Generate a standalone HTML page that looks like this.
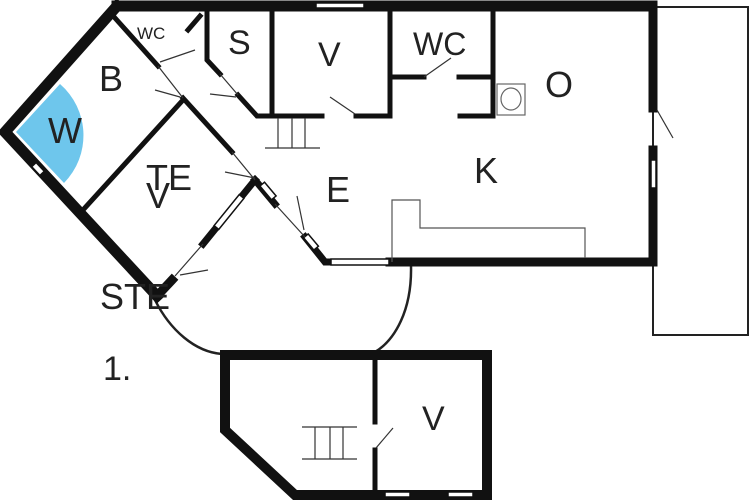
<!DOCTYPE html>
<html><head><meta charset="utf-8"><style>
html,body{margin:0;padding:0;background:#fff;width:750px;height:500px;overflow:hidden}
text{font-family:"Liberation Sans",sans-serif;fill:#222}
</style></head><body>
<svg width="750" height="500" viewBox="0 0 750 500" xmlns="http://www.w3.org/2000/svg">
<rect width="750" height="500" fill="#fff"/>
<path d="M16,132 L60,84 A68 68 0 0 1 64,183 Z" fill="#6ec6ec"/>
<rect x="653" y="7" width="95" height="328" fill="none" stroke="#222" stroke-width="2"/>
<path d="M411,266 C412,310 395,340 375,352" fill="none" stroke="#222" stroke-width="2.5"/>
<path d="M155,300 C170,330 195,352 222,354" fill="none" stroke="#222" stroke-width="2.5"/>
<g fill="none" stroke="#111" stroke-linecap="square">
<polyline points="117,6 5,132 157,296" stroke-width="11"/>
<line x1="117" y1="6" x2="652" y2="6" stroke-width="11"/>
<line x1="653" y1="6" x2="653" y2="108" stroke-width="9"/>
<line x1="653" y1="150" x2="653" y2="262" stroke-width="9"/>
<line x1="390" y1="262" x2="653" y2="262" stroke-width="9"/>
<polyline points="115,18 158,66" stroke-width="5"/>
<polyline points="183,98 232,152" stroke-width="5"/>
<polyline points="183,100 83,210" stroke-width="5"/>
<polyline points="207,12 207,60 220,74" stroke-width="5"/>
<polyline points="238,95 257,116 322,116" stroke-width="5"/>
<line x1="356" y1="116" x2="385" y2="116" stroke-width="5"/>
<line x1="272" y1="12" x2="272" y2="116" stroke-width="5"/>
<line x1="390" y1="12" x2="390" y2="116" stroke-width="5"/>
<line x1="392" y1="77" x2="424" y2="77" stroke-width="5"/>
<line x1="459" y1="77" x2="493" y2="77" stroke-width="5"/>
<line x1="493" y1="12" x2="493" y2="116" stroke-width="5"/>
<line x1="460" y1="116" x2="493" y2="116" stroke-width="5"/>
<line x1="200" y1="16" x2="188" y2="30" stroke-width="5"/>
<polyline points="255,180 275,204" stroke-width="7"/>
<polyline points="305,237 325,262 330,262" stroke-width="7"/>
<polyline points="255,180 203,244" stroke-width="7"/>
<polyline points="172,280 157,296" stroke-width="9"/>
<polyline points="225,355 487,355 487,495 295,495 225,430 225,355" stroke-width="10"/>
<line x1="375" y1="358" x2="375" y2="422" stroke-width="5"/>
<line x1="375" y1="450" x2="375" y2="492" stroke-width="5"/>
</g>
<g fill="#fff" stroke="#111" stroke-width="1.5">
<rect x="316" y="3" width="48" height="5"/>
<rect x="331" y="259" width="58" height="6"/>
<rect x="651" y="160" width="5" height="28"/>
<rect x="385" y="492" width="25" height="5"/>
<rect x="448" y="492" width="25" height="5"/>
<rect x="32" y="166" width="12" height="6" transform="rotate(47 38 169)"/>
<rect x="259" y="188" width="18" height="6" transform="rotate(50 268 191)"/>
<rect x="303" y="239" width="16" height="6" transform="rotate(50 311 242)"/>
<rect x="209" y="209" width="40" height="6" transform="rotate(-51 229 212)"/>
</g>
<g stroke="#333" stroke-width="1.2" fill="none">
<line x1="158" y1="66" x2="183" y2="98"/>
<line x1="160" y1="62" x2="195" y2="50"/>
<line x1="155" y1="90" x2="180" y2="97"/>
<line x1="220" y1="74" x2="238" y2="95"/>
<line x1="210" y1="94" x2="236" y2="97"/>
<line x1="232" y1="152" x2="255" y2="180"/>
<line x1="225" y1="172" x2="255" y2="178"/>
<line x1="275" y1="204" x2="305" y2="237"/>
<line x1="297" y1="196" x2="304" y2="230"/>
<line x1="203" y1="244" x2="175" y2="276"/>
<line x1="180" y1="275" x2="208" y2="270"/>
<line x1="330" y1="97" x2="355" y2="114"/>
<line x1="424" y1="77" x2="451" y2="58"/>
<line x1="657" y1="110" x2="673" y2="138"/>
<line x1="376" y1="448" x2="393" y2="428"/>
<line x1="265" y1="148" x2="320" y2="148"/>
<line x1="278" y1="118" x2="278" y2="148"/>
<line x1="292" y1="118" x2="292" y2="148"/>
<line x1="305" y1="118" x2="305" y2="148"/>
<line x1="302" y1="427" x2="357" y2="427"/>
<line x1="302" y1="459" x2="357" y2="459"/>
<line x1="315" y1="427" x2="315" y2="459"/>
<line x1="330" y1="427" x2="330" y2="459"/>
<line x1="343" y1="427" x2="343" y2="459"/>
<polyline points="392,262 392,200 420,200 420,228 585,228 585,258" stroke="#555"/>
<rect x="497" y="84" width="28" height="31" stroke="#666"/>
<ellipse cx="511" cy="99" rx="10" ry="11" stroke="#666"/>
</g>
<text x="137" y="39" font-size="17">WC</text>
<text x="228" y="54" font-size="34">S</text>
<text x="318" y="66" font-size="34">V</text>
<text x="413" y="55" font-size="32">WC</text>
<text x="99" y="91" font-size="36">B</text>
<text x="48" y="143" font-size="36">W</text>
<text x="146" y="190" font-size="36">TE</text>
<text x="146" y="208" font-size="36">V</text>
<text x="326" y="202" font-size="36">E</text>
<text x="474" y="183" font-size="36">K</text>
<text x="545" y="97" font-size="36">O</text>
<text x="100" y="309" font-size="36">STE</text>
<text x="103" y="380" font-size="34">1.</text>
<text x="422" y="430" font-size="34">V</text>
</svg>
</body></html>
